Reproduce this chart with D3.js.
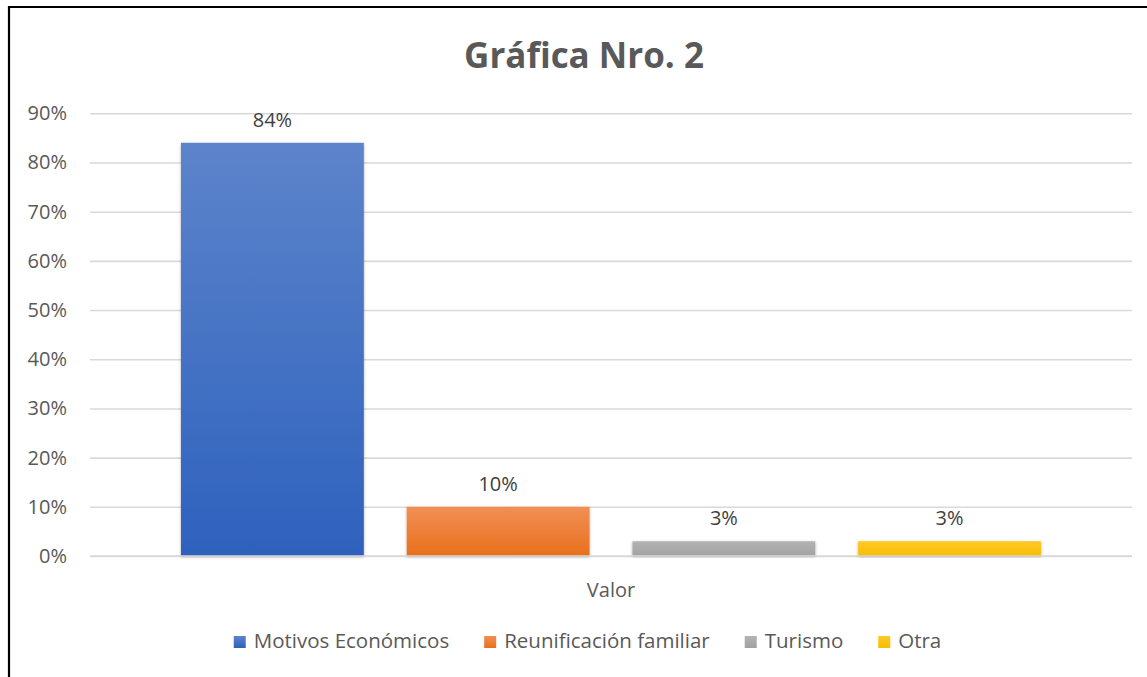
<!DOCTYPE html>
<html>
<head>
<meta charset="utf-8">
<script src="https://cdn.jsdelivr.net/npm/d3@7/dist/d3.min.js"></script>
<style>
  html, body { margin: 0; padding: 0; background: #fff; }
  svg { display: block; }
  text { font-family: "Open Sans", "Noto Sans", sans-serif; }
</style>
</head>
<body>
<svg id="chart" width="1147" height="677"></svg>
<script>
const title = "Gráfica Nro. 2";
const category = ["Valor"];
const seriesNames = ["Motivos Económicos", "Reunificación familiar", "Turismo", "Otra"];
const seriesValues = [0.84, 0.10, 0.03, 0.03];
const seriesLabels = ["84%", "10%", "3%", "3%"];
const yTicks = [0, 0.1, 0.2, 0.3, 0.4, 0.5, 0.6, 0.7, 0.8, 0.9];
const colorsTop = ["#5d84cb", "#f18f55", "#b3b3b3", "#ffc928"];
const colorsBottom = ["#2e61bd", "#e9701c", "#a2a2a2", "#f6bd00"];

const svg = d3.select("#chart");
const W = 1147, H = 677;
const textColor = "#595959";
const fs = 20;
const legendFs = 20.5;

// frame
svg.append("rect").attr("x", 0).attr("y", 0).attr("width", W).attr("height", H).attr("fill", "#fff");
svg.append("path").attr("d", `M9,${H + 5} L9,7 L${W + 5},7`).attr("fill", "none").attr("stroke", "#000").attr("stroke-width", 2.2);

const defs = svg.append("defs");
seriesNames.forEach((s, i) => {
  const g = defs.append("linearGradient").attr("id", "grad" + i).attr("x1", 0).attr("y1", 0).attr("x2", 0).attr("y2", 1);
  g.append("stop").attr("offset", "0%").attr("stop-color", colorsTop[i]);
  g.append("stop").attr("offset", "100%").attr("stop-color", colorsBottom[i]);
});
const f = defs.append("filter").attr("id", "shadow").attr("x", "-10%").attr("y", "-10%").attr("width", "120%").attr("height", "120%");
f.append("feDropShadow").attr("dx", 0).attr("dy", 1).attr("stdDeviation", 1.5).attr("flood-color", "#000").attr("flood-opacity", 0.3);

const plotLeft = 90, plotRight = 1132, plotTop = 113.3, plotBottom = 556;

const y = d3.scaleLinear().domain([0, 0.9]).range([plotBottom, plotTop]);
const x0 = d3.scaleBand().domain(category).range([plotLeft, plotRight]).paddingInner(0).paddingOuter(0.1058);
const x1 = d3.scaleBand().domain(seriesNames).range([0, x0.bandwidth()]).paddingInner(0.19).paddingOuter(0);

// title
svg.append("text").attr("x", 584).attr("y", 68).attr("text-anchor", "middle")
  .attr("font-size", 35).attr("font-weight", "bold").attr("fill", textColor).text(title);

// gridlines
const yAxis = d3.axisLeft(y).tickValues(yTicks).tickFormat(d3.format(".0%")).tickSize(-(plotRight - plotLeft)).tickPadding(23);
const ga = svg.append("g").attr("transform", `translate(${plotLeft},0)`).call(yAxis);
ga.select(".domain").remove();
ga.selectAll(".tick line").attr("stroke", "#d9d9d9").attr("stroke-width", 1.6);
ga.selectAll(".tick text").attr("font-size", fs).attr("fill", textColor)
  .attr("font-family", "'Open Sans', sans-serif");

// bars
const g = svg.append("g");
category.forEach(cat => {
  seriesNames.forEach((s, i) => {
    const bx = x0(cat) + x1(s);
    g.append("rect")
      .attr("x", bx).attr("y", y(seriesValues[i]))
      .attr("width", x1.bandwidth()).attr("height", y(0) - y(seriesValues[i]))
      .attr("fill", `url(#grad${i})`).attr("filter", "url(#shadow)");
    g.append("text")
      .attr("x", bx + x1.bandwidth() / 2).attr("y", y(seriesValues[i]) - 16)
      .attr("text-anchor", "middle").attr("font-size", fs).attr("fill", "#404040")
      .text(seriesLabels[i]);
  });
});

// axis baseline
svg.append("line").attr("x1", plotLeft).attr("x2", plotRight).attr("y1", y(0)).attr("y2", y(0))
  .attr("stroke", "#d9d9d9").attr("stroke-width", 1.6);

// category label
svg.append("text").attr("x", x0(category[0]) + x0.bandwidth() / 2).attr("y", 597)
  .attr("text-anchor", "middle").attr("font-size", fs).attr("fill", textColor).text(category[0]);

// legend
const lg = svg.append("g");
const sq = 12, sqGap = 8, itemGap = 35;
const items = seriesNames.map((s, i) => {
  const it = lg.append("g");
  it.append("rect").attr("x", 0).attr("y", -12).attr("width", sq).attr("height", sq).attr("fill", `url(#grad${i})`);
  const t = it.append("text").attr("x", sq + sqGap).attr("y", 0).attr("font-size", legendFs).attr("fill", textColor).text(s);
  const w = sq + sqGap + t.node().getComputedTextLength();
  return { it, w };
});
const total = d3.sum(items, d => d.w) + itemGap * (items.length - 1);
let cx = 587.5 - total / 2;
items.forEach(d => { d.it.attr("transform", `translate(${cx},648)`); cx += d.w + itemGap; });
</script>
</body>
</html>
